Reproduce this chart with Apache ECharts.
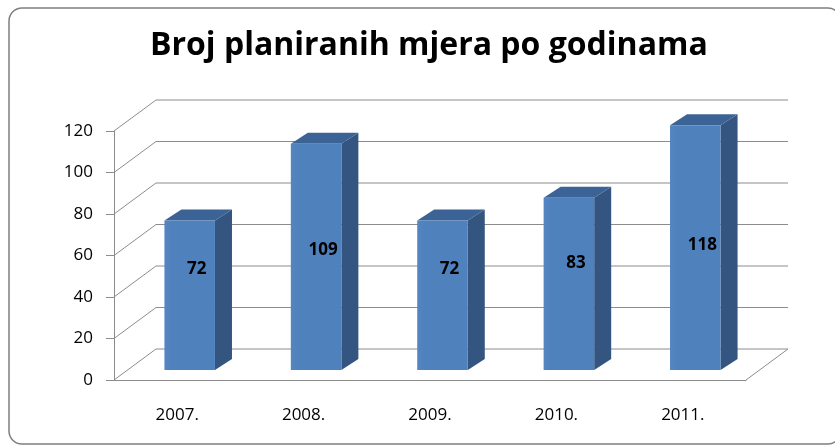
<!DOCTYPE html>
<html>
<head>
<meta charset="utf-8">
<script src="https://cdn.jsdelivr.net/npm/echarts@6/dist/echarts.min.js"></script>
<style>
  html, body { margin: 0; padding: 0; background: #fff; }
  #chart { width: 835px; height: 445px; }
</style>
</head>
<body>
<div id="chart"></div>
<script>
const years = ['2007.', '2008.', '2009.', '2010.', '2011.'];
const measures = [72, 109, 72, 83, 118];
const yTicks = [0, 20, 40, 60, 80, 100, 120];

// depth of the back wall and of the boxes, in pixels
const WALL_DX = 42, WALL_DY = -31;
const BAR_FRONT = [12.5, -10];
const BAR_BACK = [29.5, -21];
const FONT = 'Open Sans';

const chart = echarts.init(document.getElementById('chart'));

function renderWall(params, api) {
  const v = api.value(0);
  const p = api.coord([0, v]);
  const bw = api.size([1, 0])[0];
  const x0 = p[0] - bw / 2;
  const y = p[1];
  const xEnd = x0 + bw * years.length;
  const style = { stroke: '#8c8c8c', lineWidth: 1, fill: null };
  const children = [
    { type: 'line', shape: { x1: x0, y1: y, x2: x0 + WALL_DX, y2: y + WALL_DY }, style },
    { type: 'line', shape: { x1: x0 + WALL_DX, y1: y + WALL_DY, x2: xEnd + WALL_DX, y2: y + WALL_DY }, style }
  ];
  if (v === 0) {
    children.push({ type: 'line', shape: { x1: xEnd, y1: y, x2: xEnd + WALL_DX, y2: y + WALL_DY }, style });
  }
  return { type: 'group', children };
}

function renderBar(params, api) {
  const i = api.value(0);
  const v = api.value(1);
  const top = api.coord([i, v]);
  const base = api.coord([i, 0]);
  const bw = api.size([1, 0])[0];
  const w = bw * 0.4;
  const fx = top[0] - w / 2 + BAR_FRONT[0];
  const fyTop = top[1] + BAR_FRONT[1];
  const fyBot = base[1] + BAR_FRONT[1];
  const ddx = BAR_BACK[0] - BAR_FRONT[0];
  const ddy = BAR_BACK[1] - BAR_FRONT[1];
  const labelPos = api.coord([i, 35.4 + v / 4]);
  return {
    type: 'group',
    children: [
      {
        type: 'polygon',
        shape: { points: [[fx + w, fyTop], [fx + w + ddx, fyTop + ddy], [fx + w + ddx, fyBot + ddy], [fx + w, fyBot]] },
        style: { fill: '#34557f' }
      },
      {
        type: 'polygon',
        shape: { points: [[fx, fyTop], [fx + ddx, fyTop + ddy], [fx + w + ddx, fyTop + ddy], [fx + w, fyTop]] },
        style: { fill: '#3c6395' }
      },
      {
        type: 'rect',
        shape: { x: fx, y: fyTop, width: w, height: fyBot - fyTop },
        style: {
          fill: new echarts.graphic.LinearGradient(0, 0, 1, 0, [
            { offset: 0, color: '#5585c2' },
            { offset: 0.15, color: '#4f81bd' },
            { offset: 1, color: '#4f81bd' }
          ])
        }
      },
      {
        type: 'text',
        x: fx + w / 2 + 7,
        y: labelPos[1],
        style: {
          text: String(v),
          fill: '#000',
          font: 'bold 17px "' + FONT + '"',
          align: 'center',
          verticalAlign: 'middle'
        }
      }
    ]
  };
}

chart.setOption({
  animation: false,
  title: {
    text: 'Broj planiranih mjera po godinama',
    left: 145,
    top: 25,
    textStyle: { fontFamily: FONT, fontSize: 32, fontWeight: 'bold', color: '#000' }
  },
  graphic: [{
    type: 'rect',
    shape: { x: 9, y: 8, width: 832, height: 436, r: 13 },
    style: { fill: null, stroke: '#7f7f7f', lineWidth: 1.5 },
    silent: true
  }],
  grid: { left: 114, right: 89, top: 131, bottom: 65 },
  xAxis: {
    type: 'category',
    data: years,
    axisLine: { lineStyle: { color: '#8c8c8c' } },
    axisTick: { length: 5, lineStyle: { color: '#8c8c8c' } },
    axisLabel: { fontFamily: FONT, fontSize: 17, color: '#000', margin: 27 }
  },
  yAxis: {
    type: 'value',
    min: 0,
    max: 120,
    interval: 20,
    axisLine: { show: true, lineStyle: { color: '#8c8c8c' } },
    axisTick: { show: true, length: 8, lineStyle: { color: '#8c8c8c' } },
    splitLine: { show: false },
    axisLabel: { fontFamily: FONT, fontSize: 17, color: '#000', margin: 21 }
  },
  series: [
    {
      type: 'custom',
      renderItem: renderWall,
      data: yTicks.map(v => [v]),
      encode: { y: 0 },
      clip: false,
      silent: true,
      z: 1
    },
    {
      type: 'custom',
      renderItem: renderBar,
      data: measures.map((v, i) => [i, v]),
      encode: { x: 0, y: 1 },
      clip: false,
      z: 2
    }
  ]
});
</script>
</body>
</html>
